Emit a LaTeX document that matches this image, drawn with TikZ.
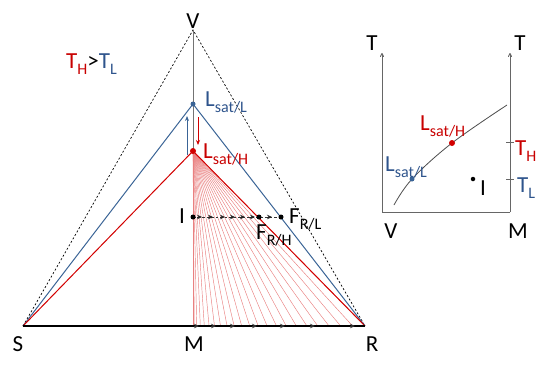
\documentclass[tikz,border=0pt]{standalone}
\usepackage{fontspec}
\setmainfont{Carlito}
\usetikzlibrary{arrows.meta}
\definecolor{cblue}{RGB}{58,100,150}
\definecolor{cred}{RGB}{210,0,0}
\definecolor{tblue}{RGB}{46,84,140}
\definecolor{tred}{RGB}{200,0,0}
\newcommand\sbx[1]{\raisebox{-6bp}{\fontsize{16bp}{16bp}\selectfont #1}}
\begin{document}
\begin{tikzpicture}[x=1bp,y=-1bp,
  lab/.style={font=\fontsize{23bp}{23bp}\selectfont, inner sep=0pt},
  dashline/.style={black, line width=0.7bp, dash pattern=on 2bp off 2bp},
  blueline/.style={cblue, line width=1bp},
  redline/.style={cred, line width=1bp},
  fan/.style={cred!50, line width=0.45bp},
  axis/.style={black!60, line width=0.9bp},
  dotb/.style={circle, fill=cblue, inner sep=0pt, minimum size=5bp},
  dotr/.style={circle, fill=cred, inner sep=0pt, minimum size=6bp},
  dotk/.style={circle, fill=black, inner sep=0pt, minimum size=5bp},
  tip/.style={-{Stealth[length=5bp,width=4bp]}},
  smalltip/.style={-{Stealth[length=5bp,width=4.5bp]}, black!80, line width=0.8bp}]
\useasboundingbox (0,0) rectangle (550,364);
% ---- triangle ----
\coordinate (S) at (23,326);
\coordinate (R) at (365,326);
\coordinate (M) at (193,326);
\coordinate (V) at (193,30);
\coordinate (LL) at (193,104);
\coordinate (LH) at (193,151);
\coordinate (I) at (193,217);
\coordinate (FRH) at (259,217);
\coordinate (FRL) at (281,217);
% fan lines
\foreach \k in {0,...,22} {
  \pgfmathsetmacro\xx{193+172*(\k/22)^1.6}
  \draw[fan] (LH) -- (\xx,326);
}
\draw[dashline] (S) -- (V) -- (R);
\draw[black!55, line width=1bp] (V) -- (LH);
\draw[blueline] (S) -- (LL) -- (R);
\draw[redline] (S) -- (LH) -- (R);
\draw[black, line width=1.3bp] (S) -- (R);
% base arrows
\foreach \xa in {199,216,235,257,285,315,355} {
  \draw[smalltip] (\xa-5,326) -- (\xa,326);
}
% I line
\draw[black!80, line width=0.8bp, dash pattern=on 2.5bp off 2bp] (I) -- (FRL);
\foreach \xa in {202,213,225,235,245,255,272} {
  \draw[smalltip, black!85] (\xa-5,217) -- (\xa,217);
}
% vertical arrows
\coordinate (ua) at (187,155); \coordinate (ub) at (187,116);
\coordinate (da) at (198,117); \coordinate (db) at (198,145);
\draw[tip, cblue, line width=1bp] (ua) -- (ub);
\draw[tip, cred, line width=1bp] (da) -- (db);
% dots
\node[dotb] (nLL) at (LL) {};
\node[dotr] (nLH) at (LH) {};
\node[dotk] (nI) at (I) {};
\node[dotk] (nFRH) at (FRH) {};
\node[dotk] (nFRL) at (FRL) {};
% labels
\node[lab, anchor=base] (lV) at (193,28) {V};
\node[lab, anchor=base] (lS) at (18,351) {S};
\node[lab, anchor=base] (lM) at (194,351) {M};
\node[lab, anchor=base] (lR) at (372,351) {R};
\node[lab, anchor=base west] (lT) at (66,68) {\textcolor{tred}{T\sbx{H}}>\textcolor{tblue}{T\sbx{L}}};
\node[lab, anchor=base west, text=tblue] (lLL) at (205,106) {L\sbx{sat/L}};
\node[lab, anchor=base west, text=tred] (lLH) at (203,158) {L\sbx{sat/H}};
\node[lab, anchor=base] (lI) at (182,223) {I};
\node[lab, anchor=base west] (lFRH) at (256,239) {F\sbx{R/H}};
\node[lab, anchor=base west] (lFRL) at (289,223) {F\sbx{R/L}};
% ---- right diagram ----
\coordinate (O1) at (382,212);
\coordinate (O2) at (510,212);
\coordinate (A1) at (382,53);
\coordinate (A2) at (510,53);
\draw[axis, -{To[length=4bp,width=4bp]}] (O1) -- (A1);
\draw[axis, -{To[length=4bp,width=4bp]}] (O2) -- (A2);
\draw[axis] (O1) -- (O2);
\coordinate (TH) at (510,142.5);
\coordinate (TL) at (510,179);
\draw[axis] ([xshift=-4bp]TH) -- ([xshift=4bp]TH);
\draw[axis] ([xshift=-4bp]TL) -- ([xshift=4bp]TL);
\draw[black!70, line width=0.8bp] plot[smooth, tension=0.6] coordinates {(394,205) (412,179) (452,143) (507,105)};
\node[dotb] (rLL) at (412,179) {};
\node[dotr] (rLH) at (452,143) {};
\node[dotk, minimum size=4.5bp] (rI) at (473,179) {};
\node[lab, anchor=base] (rT1) at (372,50) {T};
\node[lab, anchor=base] (rT2) at (520,50) {T};
\node[lab, anchor=base] (rV) at (391,238) {V};
\node[lab, anchor=base] (rM) at (518,238) {M};
\node[lab, anchor=base west, text=tred] (rLHl) at (420,130) {L\sbx{sat/H}};
\node[lab, anchor=base west, text=tblue] (rLLl) at (385,171) {L\sbx{sat/L}};
\node[lab, anchor=base west, text=tred] (rTH) at (515,155) {T\sbx{H}};
\node[lab, anchor=base west, text=tblue] (rTL) at (517,192) {T\sbx{L}};
\node[lab, anchor=base west] (rIl) at (480,195) {I};
\end{tikzpicture}
\end{document}
